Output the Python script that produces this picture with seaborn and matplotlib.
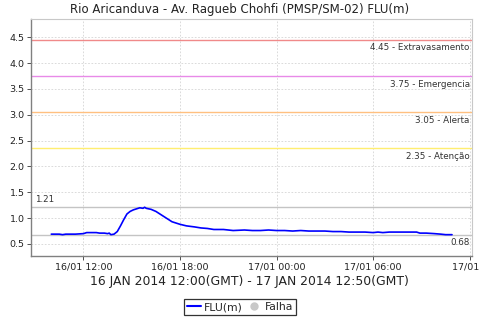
import matplotlib
matplotlib.use("Agg")
import matplotlib.pyplot as plt
from matplotlib.lines import Line2D
import seaborn as sns
import pandas as pd

# ---- data (hours since 16/01 00:00) ----
hours = [10.0, 10.5, 10.7, 10.9, 11.5, 12.0, 12.2, 12.8, 13.0, 13.3, 13.5, 13.6, 13.7, 13.9,
         14.1, 14.3, 14.5, 14.7, 14.9, 15.1, 15.3, 15.5, 15.7, 15.8, 15.9, 16.2, 16.5, 16.8,
         17.1, 17.5, 18.0, 18.4, 18.9, 19.3, 19.7, 20.1, 20.7, 21.3, 22.0, 22.5, 23.0, 23.5,
         24.0, 24.5, 25.0, 25.5, 26.0, 26.5, 27.0, 27.5, 28.0, 28.5, 29.0, 29.5, 30.0, 30.3,
         30.6, 31.0, 31.5, 32.0, 32.7, 32.9, 33.3, 33.8, 34.2, 34.5, 34.8, 34.9]
flu = [0.69, 0.69, 0.68, 0.69, 0.69, 0.70, 0.72, 0.72, 0.71, 0.71, 0.70, 0.71, 0.68, 0.69,
       0.74, 0.85, 0.97, 1.08, 1.13, 1.16, 1.18, 1.20, 1.19, 1.21, 1.19, 1.17, 1.13, 1.07,
       1.01, 0.93, 0.88, 0.85, 0.83, 0.81, 0.80, 0.78, 0.78, 0.76, 0.77, 0.76, 0.76, 0.77,
       0.76, 0.76, 0.75, 0.76, 0.75, 0.75, 0.75, 0.74, 0.74, 0.73, 0.73, 0.73, 0.72, 0.73,
       0.72, 0.73, 0.73, 0.73, 0.73, 0.71, 0.71, 0.70, 0.69, 0.68, 0.68, 0.68]

tick_hours = [12, 18, 24, 30, 36]
tick_labels = ["16/01 12:00", "16/01 18:00", "17/01 00:00", "17/01 06:00", "17/01 1"]

threshold_values = [4.45, 3.75, 3.05, 2.35]
threshold_names = ["Extravasamento", "Emergencia", "Alerta", "Atenção"]
threshold_colors = ["#f08a8a", "#e88ae8", "#ffc080", "#ffee70"]

max_value = 1.21
min_value = 0.68

title = "Rio Aricanduva - Av. Ragueb Chohfi (PMSP/SM-02) FLU(m)"
xlabel = "16 JAN 2014 12:00(GMT) - 17 JAN 2014 12:50(GMT)"

df = pd.DataFrame({"hour": hours, "FLU(m)": flu})

sns.set_theme(style="white")
plt.rcParams["font.family"] = ["DejaVu Sans"]

fig = plt.figure(figsize=(4.8, 3.2), dpi=100)
ax = fig.add_axes([0.0656, 0.2, 0.917, 0.74])

ax.set_xlim(8.77, 36.12)
ax.set_ylim(0.267, 4.85)

# grid
ax.set_yticks([0.5, 1.0, 1.5, 2.0, 2.5, 3.0, 3.5, 4.0, 4.5])
ax.set_yticklabels(["0.5", "1.0", "1.5", "2.0", "2.5", "3.0", "3.5", "4.0", "4.5"])
ax.set_xticks(tick_hours)
ax.set_xticklabels(tick_labels)
ax.grid(True, color="#d4d4d4", linestyle=(0, (2, 2)), linewidth=0.6)
ax.set_axisbelow(True)

# thresholds
for v, n, c in zip(threshold_values, threshold_names, threshold_colors):
    ax.axhline(v, color=c, linewidth=1.0, zorder=2)
    ax.text(36.0, v - 0.07, f"{v:.2f} - {n}", ha="right", va="top",
            fontsize=6.3, color="#333333", zorder=3)

# max/min
ax.axhline(max_value, color="#c4c4c4", linewidth=1.0, zorder=2)
ax.text(9.0, max_value + 0.07, f"{max_value:.2f}", ha="left", va="bottom",
        fontsize=6.3, color="#333333")
ax.axhline(min_value, color="#c4c4c4", linewidth=1.0, zorder=2)
ax.text(36.0, min_value - 0.07, f"{min_value:.2f}", ha="right", va="top",
        fontsize=6.3, color="#333333")

sns.lineplot(data=df, x="hour", y="FLU(m)", ax=ax, color="#0000ff",
             linewidth=1.2, zorder=4, legend=False)

ax.set_xlabel("")
ax.set_ylabel("")
ax.tick_params(axis="both", labelsize=6.8, colors="#333333", length=3, width=0.6,
               direction="out", pad=2, left=True, bottom=True)
ax.tick_params(axis="both", labelcolor="#222222")

for side in ["left", "bottom"]:
    ax.spines[side].set_color("#808080")
    ax.spines[side].set_linewidth(1.0)
for side in ["top", "right"]:
    ax.spines[side].set_color("#c8c8c8")
    ax.spines[side].set_linewidth(0.8)

fig.text(0.5, 0.969, title, ha="center", va="center", fontsize=8.45, color="#222222")
fig.text(0.52, 0.119, xlabel, ha="center", va="center", fontsize=8.95, color="#222222")

handles = [Line2D([], [], color="#0000ff", linewidth=1.5),
           Line2D([], [], color="#c8c8c8", marker="o", linestyle="none", markersize=5)]
leg = fig.legend(handles, ["FLU(m)", "Falha"], loc="center", bbox_to_anchor=(0.5, 0.04),
                 ncol=2, fontsize=7.8, frameon=True, fancybox=False, edgecolor="#000000",
                 handlelength=1.3, handletextpad=0.3, columnspacing=0.4,
                 borderpad=0.25, borderaxespad=0)
leg.get_frame().set_linewidth(0.9)

fig.savefig("out.png", dpi=100, facecolor="white")
